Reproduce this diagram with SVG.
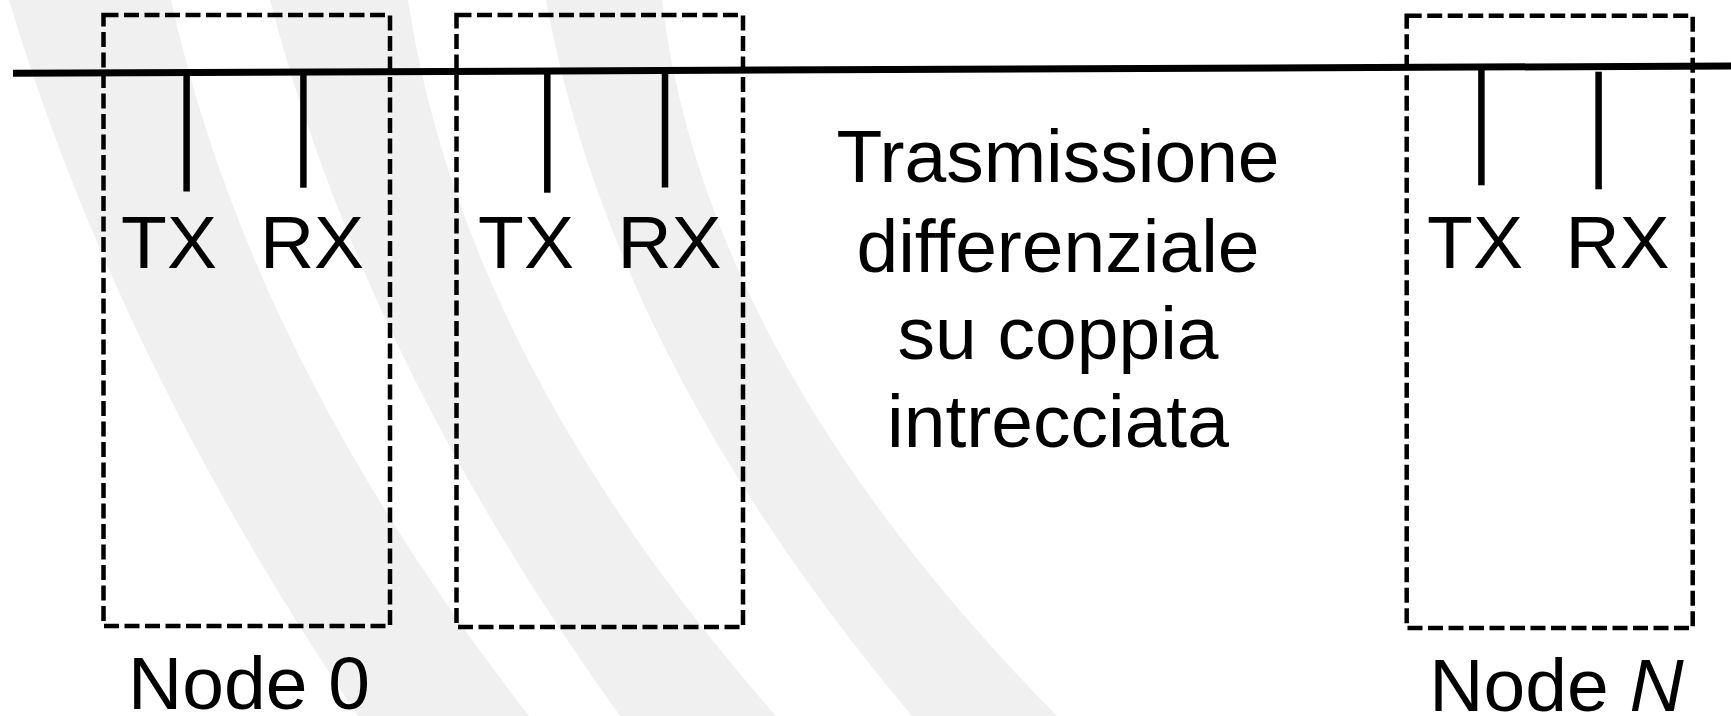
<svg xmlns="http://www.w3.org/2000/svg" width="1731" height="716" viewBox="0 0 1731 716">
  <style>
    .band { fill: #f0f0f0; stroke: none; }
    .box { fill: none; stroke: #000; stroke-width: 4.5; stroke-dasharray: 15 5.5; }
    .bus { fill: none; stroke: #000; stroke-width: 7; }
    .stub { fill: none; stroke: #000; stroke-width: 6.5; }
    .lbl { font-family: "Liberation Sans", Arial, Helvetica, sans-serif; font-size: 75px; fill: #000; text-anchor: middle; }
  </style>
  <rect x="0" y="0" width="1731" height="716" fill="#ffffff"/>
  <g id="background">
    <path class="band" d="M9,0 Q116.5,358 358,716 L529,716 Q250,358 171,0 Z"/>
    <path class="band" d="M270,0 Q363,358 620,716 L776,716 Q462,358 408,0 Z"/>
    <path class="band" d="M546,0 Q611,358 912,716 L1057,716 Q704.5,358 662,0 Z"/>
  </g>
  <g id="connectors">
    <line class="bus" x1="13" y1="73.3" x2="1731" y2="66"/>
    <line class="stub" x1="186.6" y1="72" x2="186.6" y2="191.5"/>
    <line class="stub" x1="303.4" y1="72" x2="303.4" y2="187.7"/>
    <line class="stub" x1="547.3" y1="70.5" x2="547.3" y2="192.7"/>
    <line class="stub" x1="665" y1="70" x2="665" y2="187.5"/>
    <line class="stub" x1="1481.4" y1="67" x2="1481.4" y2="185.3"/>
    <line class="stub" x1="1598.6" y1="71.7" x2="1598.6" y2="189.3"/>
  </g>
  <g id="node0">
    <rect class="box" x="103.5" y="15" width="286.5" height="611"/>
    <text class="lbl" x="169" y="268">TX</text>
    <text class="lbl" x="312" y="268">RX</text>
    <text class="lbl" x="249" y="709">Node 0</text>
  </g>
  <g id="node1">
    <rect class="box" x="456.5" y="15" width="286.5" height="612"/>
    <text class="lbl" x="526" y="268">TX</text>
    <text class="lbl" x="669.5" y="268">RX</text>
  </g>
  <g id="nodeN">
    <rect class="box" x="1406.7" y="15.7" width="286" height="612.3"/>
    <text class="lbl" x="1475" y="268">TX</text>
    <text class="lbl" x="1617.5" y="268">RX</text>
    <text class="lbl" x="1556.5" y="711">Node <tspan font-style="italic">N</tspan></text>
  </g>
  <g id="medium-label">
    <text class="lbl" x="1058" y="182">Trasmissione</text>
    <text class="lbl" x="1058" y="272">differenziale</text>
    <text class="lbl" x="1058" y="359">su coppia</text>
    <text class="lbl" x="1058" y="447">intrecciata</text>
  </g>
</svg>
